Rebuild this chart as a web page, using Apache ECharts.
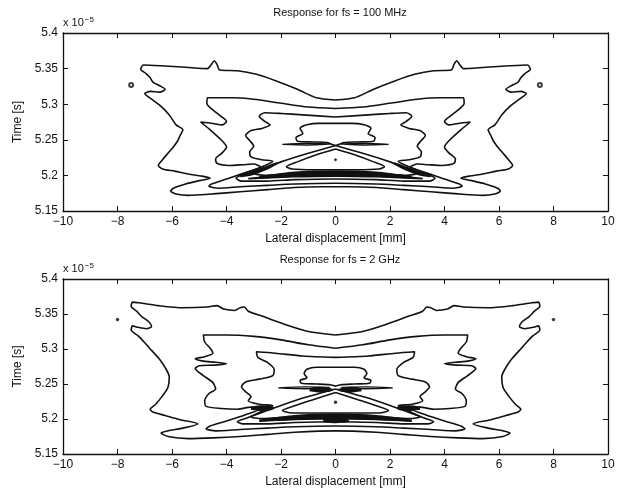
<!DOCTYPE html>
<html>
<head>
<meta charset="utf-8">
<script src="https://cdn.jsdelivr.net/npm/echarts@6/dist/echarts.min.js"></script>
<style>
  html, body { margin: 0; padding: 0; background: #fff; }
  #chart { width: 621px; height: 491px; }
</style>
</head>
<body>
<div id="chart"></div>
<script>
// axis ranges (time in units of 1e-5 s)
var xMin = -10, xMax = 10, xStep = 2;
var yMin = 5.15, yMax = 5.4, yStep = 0.05;
var titles = ['Response for fs = 100 MHz', 'Response for fs = 2 GHz'];

// ---- fs = 100 MHz contours [x mm, t] ----
var topOuter = [[0,5.306],[-0.7,5.309],[-1.4,5.321],[-2.2,5.333],[-2.9,5.342],[-3.6,5.347],[-4.25,5.348],[-4.35,5.356],[-4.45,5.361],[-4.55,5.356],[-4.7,5.350],[-5.5,5.352],[-6.4,5.354],[-7.05,5.355],[-7.15,5.349],[-6.95,5.343],[-6.8,5.337],[-6.7,5.331],[-6.45,5.326],[-6.25,5.321],[-6.45,5.317],[-6.8,5.318],[-7.0,5.315],[-6.75,5.307],[-6.4,5.297],[-6.1,5.285],[-5.85,5.271],[-5.6,5.264],[-5.7,5.256],[-5.8,5.248],[-5.95,5.24],[-6.15,5.231],[-6.35,5.222],[-6.5,5.214],[-6.35,5.209],[-5.9,5.206],[-5.4,5.202],[-4.9,5.199],[-4.6,5.196],[-4.95,5.193],[-5.5,5.188],[-5.95,5.182],[-6.05,5.178],[-5.85,5.174],[-5.4,5.172],[-4.5,5.174],[-3.5,5.177],[-2.5,5.180],[-1.5,5.183],[-0.5,5.184],[0,5.184],
  [0.5,5.184],[1.5,5.183],[2.5,5.180],[3.5,5.177],[4.5,5.174],[5.4,5.172],[5.85,5.174],[6.05,5.178],[5.95,5.182],[5.5,5.188],[4.95,5.193],[4.6,5.196],[4.9,5.199],[5.4,5.202],[5.9,5.206],[6.35,5.209],[6.5,5.214],[6.35,5.222],[6.15,5.231],[5.95,5.24],[5.8,5.248],[5.7,5.256],[5.6,5.264],[5.85,5.271],[6.1,5.285],[6.4,5.297],[6.75,5.307],[7.0,5.315],[6.8,5.318],[6.45,5.317],[6.25,5.321],[6.45,5.326],[6.7,5.331],[6.8,5.337],[6.95,5.343],[7.15,5.349],[7.05,5.355],[6.4,5.354],[5.5,5.352],[4.7,5.350],[4.55,5.356],[4.45,5.361],[4.35,5.356],[4.25,5.348],[3.6,5.347],[2.9,5.342],[2.2,5.333],[1.4,5.321],[0.7,5.309],[0,5.306]];
var topSecond = [[0,5.294],[-1.0,5.296],[-2.1,5.302],[-3.0,5.307],[-3.8,5.309],[-4.7,5.309],[-4.72,5.301],[-4.5,5.292],[-4.2,5.283],[-4.0,5.276],[-4.15,5.271],[-4.5,5.273],[-4.95,5.275],[-4.6,5.264],[-4.2,5.25],[-4.0,5.24],[-4.15,5.232],[-4.4,5.223],[-4.35,5.217],[-3.9,5.214],[-3.4,5.215],[-3.0,5.216],[-2.75,5.212],[-3.3,5.204],[-4.0,5.195],[-4.55,5.188],[-4.65,5.185],[-4.3,5.182],[-3.5,5.184],[-2.5,5.186],[-1.5,5.188],[0,5.189],
  [1.5,5.188],[2.5,5.186],[3.5,5.184],[4.3,5.182],[4.65,5.185],[4.55,5.188],[4.0,5.195],[3.3,5.204],[2.75,5.212],[3.0,5.216],[3.4,5.215],[3.9,5.214],[4.35,5.217],[4.4,5.223],[4.15,5.232],[4.0,5.24],[4.2,5.25],[4.6,5.264],[4.95,5.275],[4.5,5.273],[4.15,5.271],[4.0,5.276],[4.2,5.283],[4.5,5.292],[4.72,5.301],[4.7,5.309],[3.8,5.309],[3.0,5.307],[2.1,5.302],[1.0,5.296],[0,5.294]];
var topThird = [[0,5.282],[-1.2,5.285],[-2.0,5.287],[-2.6,5.288],[-2.8,5.283],[-2.6,5.276],[-2.4,5.271],[-2.7,5.266],[-3.1,5.263],[-3.3,5.256],[-3.15,5.249],[-3.0,5.241],[-3.15,5.233],[-3.1,5.226],[-2.7,5.222],[-2.3,5.22],[-2.7,5.212],[-3.3,5.203],[-3.65,5.196],[-3.45,5.192],[-2.5,5.192],[-1.5,5.194],[0,5.195],
  [1.5,5.194],[2.5,5.192],[3.45,5.192],[3.65,5.196],[3.3,5.203],[2.7,5.212],[2.3,5.22],[2.7,5.222],[3.1,5.226],[3.15,5.233],[3.0,5.241],[3.15,5.249],[3.3,5.256],[3.1,5.263],[2.7,5.266],[2.4,5.271],[2.6,5.276],[2.8,5.283],[2.6,5.288],[2.0,5.287],[1.2,5.285],[0,5.282]];
var topDome = [[0,5.273],[-0.6,5.273],[-1.05,5.271],[-1.3,5.266],[-1.2,5.259],[-1.45,5.253],[-1.4,5.248],[-0.8,5.247],[-0.3,5.246],[0,5.242],[0.3,5.246],[0.8,5.247],[1.4,5.248],[1.45,5.253],[1.2,5.259],[1.3,5.266],[1.05,5.271],[0.6,5.273],[0,5.273]];
var topLensL = [[-1.95,5.2435],[-1.1,5.2448],[-0.2,5.2440],[-1.1,5.2426],[-1.95,5.2435]];
var topLensR = [[1.95,5.2435],[1.1,5.2448],[0.2,5.2440],[1.1,5.2426],[1.95,5.2435]];
var topWing = [[0,5.242],[-1.0,5.231],[-2.0,5.219],[-2.6,5.21],[-3.0,5.203],[-2.6,5.2],[-1.6,5.2025],[0,5.204],[1.6,5.2025],[2.6,5.2],[3.0,5.203],[2.6,5.21],[2.0,5.219],[1.0,5.231],[0,5.242]];
var topTriangle = [[0,5.237],[-0.7,5.229],[-1.4,5.219],[-1.8,5.212],[-1.6,5.209],[-0.8,5.208],[0,5.208],[0.8,5.208],[1.6,5.209],[1.8,5.212],[1.4,5.219],[0.7,5.229],[0,5.237]];
var topBand1 = [[-2.8,5.197],[-1.5,5.2035],[0,5.2055],[1.5,5.2035],[2.8,5.197],[1.5,5.1995],[0,5.2005],[-1.5,5.1995],[-2.8,5.197]];
var topBand2 = [[-2.3,5.199],[-1.2,5.2025],[0,5.2035],[1.2,5.2025],[2.3,5.199],[1.2,5.2005],[0,5.2015],[-1.2,5.2005],[-2.3,5.199]];
var topBand3 = [[-3.2,5.1955],[-1.6,5.2015],[0,5.2035],[1.6,5.2015],[3.2,5.1955],[1.6,5.198],[0,5.199],[-1.6,5.198],[-3.2,5.1955]];
var topClusterL = [[-3.5,5.199],[-3.0,5.205],[-2.5,5.212],[-2.15,5.217],[-2.55,5.209],[-3.05,5.202],[-3.5,5.199]];
var topClusterR = [[3.5,5.199],[3.0,5.205],[2.5,5.212],[2.15,5.217],[2.55,5.209],[3.05,5.202],[3.5,5.199]];
var topRings = [[-7.5,5.327],[7.5,5.327]];
var topDots = [[0,5.222]];

// ---- fs = 2 GHz contours ----
var botOuter = [[0,5.32],[-1.0,5.325],[-2.0,5.337],[-2.7,5.347],[-3.2,5.354],[-3.35,5.36],[-3.5,5.359],[-3.7,5.355],[-4.1,5.357],[-4.35,5.362],[-4.7,5.36],[-5.6,5.359],[-6.5,5.362],[-7.2,5.366],[-7.45,5.367],[-7.5,5.361],[-7.3,5.354],[-7.1,5.346],[-6.85,5.339],[-6.75,5.332],[-6.95,5.329],[-7.25,5.331],[-7.45,5.333],[-7.5,5.327],[-7.25,5.319],[-7.0,5.309],[-6.75,5.298],[-6.45,5.285],[-6.2,5.27],[-6.1,5.26],[-6.15,5.245],[-6.35,5.233],[-6.6,5.221],[-6.8,5.214],[-6.7,5.21],[-6.25,5.205],[-5.7,5.199],[-5.05,5.193],[-5.6,5.187],[-6.15,5.183],[-6.4,5.18],[-6.15,5.175],[-5.4,5.172],[-4.5,5.173],[-3.5,5.175],[-2.5,5.178],[-1.5,5.181],[0,5.183],
  [1.5,5.181],[2.5,5.178],[3.5,5.175],[4.5,5.173],[5.4,5.172],[6.15,5.175],[6.4,5.18],[6.15,5.183],[5.6,5.187],[5.05,5.193],[5.7,5.199],[6.25,5.205],[6.7,5.21],[6.8,5.214],[6.6,5.221],[6.35,5.233],[6.15,5.245],[6.1,5.26],[6.2,5.27],[6.45,5.285],[6.75,5.298],[7.0,5.309],[7.25,5.319],[7.5,5.327],[7.45,5.333],[7.25,5.331],[6.95,5.329],[6.75,5.332],[6.85,5.339],[7.1,5.346],[7.3,5.354],[7.5,5.361],[7.45,5.367],[7.2,5.366],[6.5,5.362],[5.6,5.359],[4.7,5.36],[4.35,5.362],[4.1,5.357],[3.7,5.355],[3.5,5.359],[3.35,5.36],[3.2,5.354],[2.7,5.347],[2.0,5.337],[1.0,5.325],[0,5.32]];
var botSecond = [[0,5.301],[-1.0,5.306],[-2.0,5.313],[-3.0,5.318],[-4.0,5.32],[-4.85,5.32],[-4.8,5.31],[-4.6,5.301],[-4.5,5.294],[-4.8,5.289],[-5.15,5.286],[-4.9,5.283],[-4.4,5.281],[-4.0,5.279],[-4.45,5.277],[-5.0,5.276],[-5.15,5.272],[-4.85,5.262],[-4.5,5.252],[-4.4,5.243],[-4.65,5.236],[-4.8,5.226],[-4.75,5.218],[-4.2,5.215],[-3.6,5.214],[-3.1,5.217],[-2.8,5.214],[-3.3,5.206],[-4.0,5.197],[-4.6,5.19],[-4.75,5.186],[-4.4,5.183],[-3.5,5.185],[-2.5,5.187],[-1.5,5.189],[0,5.19],
  [1.5,5.189],[2.5,5.187],[3.5,5.185],[4.4,5.183],[4.75,5.186],[4.6,5.19],[4.0,5.197],[3.3,5.206],[2.8,5.214],[3.1,5.217],[3.6,5.214],[4.2,5.215],[4.75,5.218],[4.8,5.226],[4.65,5.236],[4.4,5.243],[4.5,5.252],[4.85,5.262],[5.15,5.272],[5.0,5.276],[4.45,5.277],[4.0,5.279],[4.4,5.281],[4.9,5.283],[5.15,5.286],[4.8,5.289],[4.5,5.294],[4.6,5.301],[4.8,5.31],[4.85,5.32],[4.0,5.32],[3.0,5.318],[2.0,5.313],[1.0,5.306],[0,5.301]];
var botThird = [[0,5.288],[-1.2,5.29],[-2.2,5.294],[-2.9,5.296],[-2.85,5.288],[-2.5,5.281],[-2.25,5.271],[-2.3,5.262],[-2.8,5.257],[-3.3,5.253],[-3.45,5.246],[-3.3,5.239],[-3.1,5.232],[-3.2,5.226],[-2.8,5.221],[-2.3,5.219],[-2.7,5.211],[-3.2,5.202],[-3.6,5.196],[-3.4,5.193],[-2.5,5.193],[-1.5,5.195],[0,5.196],
  [1.5,5.195],[2.5,5.193],[3.4,5.193],[3.6,5.196],[3.2,5.202],[2.7,5.211],[2.3,5.219],[2.8,5.221],[3.2,5.226],[3.1,5.232],[3.3,5.239],[3.45,5.246],[3.3,5.253],[2.8,5.257],[2.3,5.262],[2.25,5.271],[2.5,5.281],[2.85,5.288],[2.9,5.296],[2.2,5.294],[1.2,5.29],[0,5.288]];
var botDome = [[0,5.274],[-0.7,5.274],[-1.05,5.271],[-1.15,5.265],[-1.05,5.259],[-1.3,5.255],[-1.25,5.251],[-0.7,5.25],[-0.2,5.249],[0,5.247],[0.2,5.249],[0.7,5.25],[1.25,5.251],[1.3,5.255],[1.05,5.259],[1.15,5.265],[1.05,5.271],[0.7,5.274],[0,5.274]];
var botLensL = [[-2.1,5.2445],[-1.1,5.246],[-0.2,5.2452],[-1.1,5.2432],[-2.1,5.2445]];
var botLensR = [[2.1,5.2445],[1.1,5.246],[0.2,5.2452],[1.1,5.2432],[2.1,5.2445]];
var botBlobL = [[-0.95,5.2418],[-0.55,5.2438],[-0.15,5.2418],[-0.55,5.2398],[-0.95,5.2418]];
var botBlobR = [[0.95,5.2418],[0.55,5.2438],[0.15,5.2418],[0.55,5.2398],[0.95,5.2418]];
var botWing = [[0,5.243],[-1.1,5.231],[-2.1,5.218],[-2.8,5.208],[-3.1,5.203],[-2.7,5.2005],[-1.6,5.203],[0,5.2045],[1.6,5.203],[2.7,5.2005],[3.1,5.203],[2.8,5.208],[2.1,5.218],[1.1,5.231],[0,5.243]];
var botTriangle = [[0,5.238],[-0.8,5.228],[-1.5,5.219],[-1.95,5.212],[-1.7,5.209],[-0.9,5.2085],[0,5.2085],[0.9,5.2085],[1.7,5.209],[1.95,5.212],[1.5,5.219],[0.8,5.228],[0,5.238]];
var botBand1 = [[-2.8,5.1975],[-1.5,5.204],[0,5.206],[1.5,5.204],[2.8,5.1975],[1.5,5.2],[0,5.201],[-1.5,5.2],[-2.8,5.1975]];
var botBand2 = [[-2.3,5.1995],[-1.2,5.203],[0,5.204],[1.2,5.203],[2.3,5.1995],[1.2,5.201],[0,5.202],[-1.2,5.201],[-2.3,5.1995]];
var botCore = [[-0.45,5.1975],[0,5.199],[0.45,5.1975],[0,5.196],[-0.45,5.1975]];
var botClusterL = [[-3.1,5.2155],[-2.7,5.2175],[-2.3,5.2155],[-2.7,5.2135],[-3.1,5.2155]];
var botClusterR = [[3.1,5.2155],[2.7,5.2175],[2.3,5.2155],[2.7,5.2135],[3.1,5.2155]];
var botDots = [[-8,5.342],[8,5.342],[0,5.224]];

var grids = [
  { left: 63, right: 13, top: 33, height: 178 },
  { left: 63, right: 13, top: 279, height: 175 }
];

var font = 'Liberation Sans, Arial, sans-serif';
var ink = '#111';

function xAxes(g) {
  var base = {
    gridIndex: g, type: 'value', min: xMin, max: xMax, interval: xStep,
    axisLine: { onZero: false, lineStyle: { color: ink, width: 1.3 } },
    axisTick: { inside: true, length: 5, lineStyle: { color: ink } },
    splitLine: { show: false }
  };
  return [
    Object.assign({}, base, {
      position: 'bottom',
      axisLabel: {
        color: ink, fontSize: 12, fontFamily: font, margin: 5,
        showMinLabel: true, showMaxLabel: true,
        formatter: function (v) { return String(v).replace('-', '\u2212'); }
      },
      name: 'Lateral displacement [mm]', nameLocation: 'middle', nameGap: 22,
      nameTextStyle: { color: ink, fontSize: 12, fontFamily: font }
    }),
    Object.assign({}, base, { position: 'top', axisLabel: { show: false } })
  ];
}

function yAxes(g) {
  var base = {
    gridIndex: g, type: 'value', min: yMin, max: yMax, interval: yStep,
    axisLine: { onZero: false, lineStyle: { color: ink, width: 1.3 } },
    axisTick: { inside: true, length: 5, lineStyle: { color: ink } },
    splitLine: { show: false }
  };
  return [
    Object.assign({}, base, {
      position: 'left',
      axisLabel: {
        color: ink, fontSize: 12, fontFamily: font, margin: 5,
        showMinLabel: true, showMaxLabel: true,
        formatter: function (v) { return String(+v.toFixed(2)); }
      },
      name: 'Time [s]', nameLocation: 'middle', nameGap: 36, nameRotate: 90,
      nameTextStyle: { color: ink, fontSize: 12, fontFamily: font }
    }),
    Object.assign({}, base, { position: 'right', axisLabel: { show: false } })
  ];
}

function contour(data, g, w) {
  return {
    type: 'line', xAxisIndex: g * 2, yAxisIndex: g * 2, data: data,
    showSymbol: false, smooth: 0.25, silent: true, animation: false,
    lineStyle: { color: ink, width: w || 1.6 }
  };
}

function dots(data, g, sym, size) {
  return {
    type: 'scatter', xAxisIndex: g * 2, yAxisIndex: g * 2, data: data,
    symbol: sym, symbolSize: size, silent: true, animation: false,
    itemStyle: { color: ink, borderColor: ink, borderWidth: 1 }
  };
}

var series = [
  contour(topOuter, 0), contour(topSecond, 0), contour(topThird, 0),
  contour(topDome, 0), contour(topLensL, 0, 1.3), contour(topLensR, 0, 1.3),
  contour(topWing, 0), contour(topTriangle, 0),
  contour(topBand1, 0, 2.6), contour(topBand2, 0, 3), contour(topBand3, 0, 1.6),
  contour(topClusterL, 0, 2.4), contour(topClusterR, 0, 2.4),
  dots(topRings, 0, 'emptyCircle', 4), dots(topDots, 0, 'circle', 2),

  contour(botOuter, 1), contour(botSecond, 1), contour(botThird, 1),
  contour(botDome, 1), contour(botLensL, 1, 1.3), contour(botLensR, 1, 1.3),
  contour(botBlobL, 1, 3), contour(botBlobR, 1, 3),
  contour(botWing, 1), contour(botTriangle, 1),
  contour(botBand1, 1, 2.6), contour(botBand2, 1, 3), contour(botCore, 1, 3),
  contour(botClusterL, 1, 3), contour(botClusterR, 1, 3),
  dots(botDots, 1, 'circle', 2.5)
];

var chart = echarts.init(document.getElementById('chart'), null, { renderer: 'canvas' });

function exponentLabel(top) {
  return {
    type: 'text', left: 63, top: top,
    style: {
      text: '{a|x 10}{b|\u22125}',
      rich: {
        a: { fontSize: 11, fontFamily: font, fill: ink, color: ink },
        b: { fontSize: 8, fontFamily: font, fill: ink, color: ink, verticalAlign: 'top', padding: [0, 0, 6, 1] }
      }
    }
  };
}

chart.setOption({
  backgroundColor: '#fff',
  animation: false,
  title: [
    { text: titles[0], left: 335, top: 2, textAlign: 'center',
      textStyle: { fontSize: 11, fontWeight: 'normal', color: ink, fontFamily: font } },
    { text: titles[1], left: 335, top: 249, textAlign: 'center',
      textStyle: { fontSize: 11, fontWeight: 'normal', color: ink, fontFamily: font } }
  ],
  graphic: [exponentLabel(16), exponentLabel(262)],
  grid: grids,
  xAxis: xAxes(0).concat(xAxes(1)),
  yAxis: yAxes(0).concat(yAxes(1)),
  series: series
});
</script>
</body>
</html>
